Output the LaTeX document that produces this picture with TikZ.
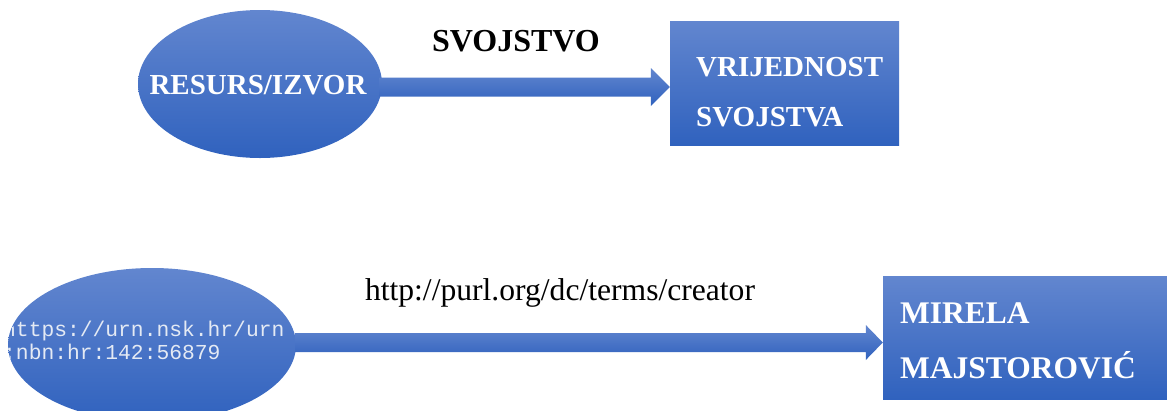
\documentclass[tikz,border=0pt]{standalone}
\usepackage{fontspec}
\setmainfont{Liberation Serif}
\newfontfamily\monofnt{Liberation Mono}
\usetikzlibrary{shapes.geometric,calc}
\definecolor{topblue}{RGB}{98,134,207}
\definecolor{botblue}{RGB}{48,98,190}
\definecolor{lightwhite}{RGB}{228,234,244}
\tikzset{
  blueshade/.style={top color=topblue, bottom color=botblue, draw=none},
  boxtext/.style={text=white, font=\bfseries, inner sep=0pt, anchor=base west},
  lbl/.style={text=black, inner sep=0pt, anchor=base},
  urntext/.style={text=lightwhite, inner sep=0pt, anchor=base west}
}
\begin{document}
\begin{tikzpicture}[x=1pt,y=-1pt]
\useasboundingbox (0,0) rectangle (1167,410);
% ---- top row ----
\node[blueshade, ellipse, inner sep=0pt, minimum width=244pt, minimum height=148pt] (e1) at (260,84) {};
\node[blueshade, rectangle, inner sep=0pt, minimum width=229pt, minimum height=124pt] (b1) at (784.5,83) {};
\node[boxtext, anchor=base, font=\fontsize{29}{29}\selectfont\bfseries] (t1) at (258,94) {RESURS/IZVOR};
\node[boxtext, font=\fontsize{29}{29}\selectfont\bfseries] (v1) at (696,76) {VRIJEDNOST};
\node[boxtext, font=\fontsize{29}{29}\selectfont\bfseries] (v2) at (696,126) {SVOJSTVA};
\coordinate (tip1) at ($(b1.west)+(0,4)$);
\shade[blueshade] ($(e1.east)+(-3,-6.5)$) -- ($(tip1)+(-19,-9.5)$) -- ($(tip1)+(-19,-19)$) -- (tip1)
  -- ($(tip1)+(-19,19)$) -- ($(tip1)+(-19,9.5)$) -- ($(e1.east)+(-3,12.5)$) -- cycle;
\node[lbl, font=\fontsize{32}{32}\selectfont\bfseries] (p1) at (516,51) {SVOJSTVO};
% ---- bottom row ----
\node[blueshade, ellipse, inner sep=0pt, minimum width=288pt, minimum height=154pt] (e2) at (152,345) {};
\begin{scope}
  \clip (e2.center) ellipse [x radius=144pt, y radius=77pt];
  \node[urntext, font=\fontsize{21.3}{21.3}\monofnt] (u1) at (3,336) {https://urn.nsk.hr/urn};
  \node[urntext, font=\fontsize{21.3}{21.3}\monofnt] (u2) at (3,359) {:nbn:hr:142:56879};
\end{scope}
\node[blueshade, rectangle, inner sep=0pt, minimum width=284pt, minimum height=123pt] (b2) at (1025,337.5) {};
\node[boxtext, font=\fontsize{31.5}{31.5}\selectfont\bfseries] (m1) at (900,323) {MIRELA};
\node[boxtext, font=\fontsize{31.5}{31.5}\selectfont\bfseries] (m2) at (900,378) {MAJSTOROVIĆ};
\coordinate (tip2) at ($(b2.west)+(0,5)$);
\shade[blueshade] ($(e2.east)+(-1,-12)$) -- ($(tip2)+(-17,-9.5)$) -- ($(tip2)+(-17,-17.5)$) -- (tip2)
  -- ($(tip2)+(-17,17.5)$) -- ($(tip2)+(-17,9.5)$) -- ($(e2.east)+(-1,7)$) -- cycle;
\node[lbl, font=\fontsize{31.6}{31.6}\selectfont] (p2) at (560,300) {http://purl.org/dc/terms/creator};
\end{tikzpicture}
\end{document}
